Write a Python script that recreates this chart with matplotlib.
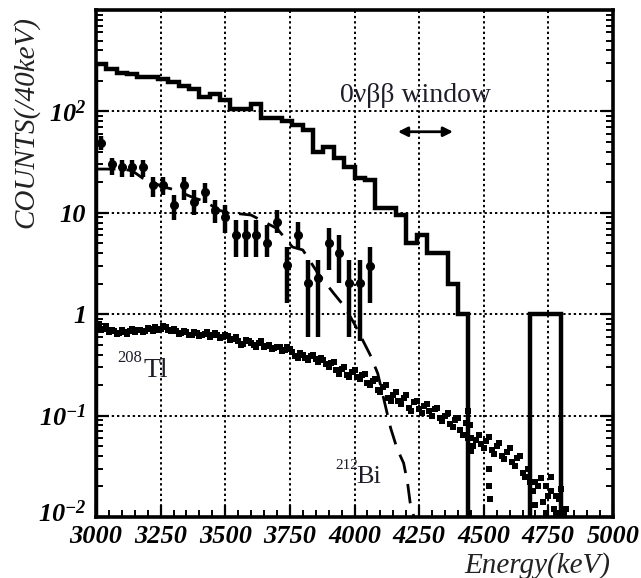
import numpy as np
import matplotlib
matplotlib.use("Agg")
import matplotlib.pyplot as plt
from matplotlib.ticker import FixedLocator, MultipleLocator, LogLocator, NullFormatter
from matplotlib.transforms import ScaledTranslation

# thick histogram, 40 keV bins from 3000 keV (0 = empty bin)
hist_edges = np.arange(3000, 5001, 40)
hist_counts = [292, 261, 240, 232, 217, 217, 207, 194, 177, 165,
               138, 147, 131, 105, 105, 117, 87, 87, 80, 74,
               66, 40, 45, 35, 28.5, 22, 21, 11.2, 11.2, 9.6,
               5.0, 6.1, 4.0, 4.0, 2.0, 1.0, 0, 0, 0, 0,
               0, 0, 1, 1, 1, 0, 0, 0, 0, 0]

# data points with error bars
data_e = [3020, 3060, 3100, 3140, 3180, 3220, 3260, 3300, 3340, 3380,
          3420, 3460, 3500, 3540, 3580, 3620, 3660, 3700, 3740, 3780,
          3820, 3860, 3900, 3940, 3980, 4020, 4060]
data_v = [49, 30, 28.5, 28.5, 28.5, 18.9, 18.9, 12, 18.9, 12.8,
          16, 10.7, 9.1, 6.1, 6.1, 6.1, 5.05, 8.1, 3.06, 6.06,
          2.03, 2.27, 5.05, 4.0, 2.03, 2.03, 2.99]
data_lo = [42, 23.7, 22.7, 22.7, 22.7, 14.4, 15, 8.5, 13.4, 9.6,
           12.5, 7.9, 6.3, 3.7, 3.7, 3.7, 3.7, 6.3, 1.28, 4.5,
           0.59, 0.59, 2.7, 2.03, 0.59, 0.55, 1.28]
data_hi = [57, 35, 33.5, 33.5, 33.5, 22.7, 22.7, 15, 22.7, 16.9,
           19.8, 13.4, 12, 8.5, 8.5, 8.5, 7.6, 10.7, 4.6, 8.1,
           3.4, 3.4, 7.1, 6.06, 3.4, 3.4, 4.6]

# 212Bi curve
bi_e = [3000, 3100, 3140, 3180, 3260, 3300, 3380, 3420, 3480, 3520,
        3600, 3700, 3760, 3800, 3860, 3920, 3960, 4000, 4060, 4090,
        4140, 4165, 4190, 4205, 4215, 4230]
bi_v = [27, 27, 26, 22, 18, 17, 14, 13, 10.5, 10,
        9.5, 7, 4.6, 4.3, 2.5, 1.6, 1.2, 0.8, 0.4, 0.26,
        0.075, 0.047, 0.034, 0.022, 0.014, 0.01]

# 208Tl scatter, read as two interleaved sets (20 keV steps)
tl_e1 = np.arange(3010, 4811, 20)
tl_v1 = [0.80, 0.72, 0.66, 0.68, 0.65, 0.67, 0.69, 0.66, 0.70, 0.68,
         0.71, 0.75, 0.72, 0.74, 0.68, 0.69, 0.65, 0.66, 0.63, 0.65,
         0.62, 0.66, 0.62, 0.63, 0.60, 0.61, 0.57, 0.55, 0.51, 0.55,
         0.50, 0.52, 0.47, 0.50, 0.46, 0.47, 0.44, 0.45, 0.39, 0.41,
         0.37, 0.39, 0.36, 0.37, 0.32, 0.33, 0.28, 0.29, 0.25, 0.27,
         0.24, 0.25, 0.21, 0.22, 0.18, 0.19, 0.15, 0.16, 0.14, 0.15,
         0.12, 0.135, 0.115, 0.125, 0.11, 0.115, 0.095, 0.10, 0.082, 0.09,
         0.072, 0.085, 0.06, 0.058, 0.052, 0.056, 0.046, 0.05, 0.04, 0.044,
         0.035, 0.038, 0.027, 0.03, 0.018, 0.02, 0.014, 0.016, 0.012, 0.015,
         0.011]
tl_e2 = np.arange(3020, 4821, 20)
tl_v2 = [0.70, 0.76, 0.70, 0.64, 0.70, 0.64, 0.72, 0.70, 0.66, 0.73,
         0.69, 0.70, 0.77, 0.70, 0.72, 0.64, 0.68, 0.62, 0.67, 0.61,
         0.64, 0.60, 0.65, 0.58, 0.63, 0.56, 0.59, 0.50, 0.56, 0.52,
         0.48, 0.54, 0.49, 0.45, 0.48, 0.43, 0.47, 0.42, 0.37, 0.40,
         0.35, 0.40, 0.34, 0.35, 0.30, 0.34, 0.26, 0.30, 0.24, 0.28,
         0.23, 0.26, 0.20, 0.23, 0.17, 0.20, 0.14, 0.17, 0.13, 0.16,
         0.11, 0.14, 0.105, 0.13, 0.10, 0.12, 0.088, 0.105, 0.078, 0.095,
         0.065, 0.11, 0.05, 0.065, 0.048, 0.062, 0.042, 0.054, 0.037, 0.048,
         0.032, 0.04, 0.025, 0.022, 0.013, 0.024, 0.011, 0.018, 0.011, 0.019,
         0.012]
tl_extra_e = [4440, 4445, 4450, 4520, 4520, 4525, 4700, 4740, 4760, 4780]
tl_extra_v = [0.06, 0.08, 0.045, 0.03, 0.02, 0.015, 0.022, 0.02, 0.025, 0.016]

xticks = [3000, 3250, 3500, 3750, 4000, 4250, 4500, 4750, 5000]
yticks = [0.01, 0.1, 1, 10, 100]
ytick_labels = [r"$10^{-2}$", r"$10^{-1}$", "1", "10", r"$10^{2}$"]

plt.rcParams["font.family"] = "Liberation Serif"
plt.rcParams["mathtext.fontset"] = "custom"
plt.rcParams["mathtext.rm"] = "Liberation Serif:bold:italic"
plt.rcParams["mathtext.it"] = "Liberation Serif:bold:italic"
plt.rcParams["mathtext.bf"] = "Liberation Serif:bold:italic"
plt.rcParams["mathtext.default"] = "rm"

fig = plt.figure(figsize=(6.41, 5.78), dpi=100)
ax = fig.add_axes([96 / 641, 61 / 578, 517 / 641, 507 / 578])
ax.set_yscale("log")

ax.stairs(hist_counts, hist_edges, color="black", lw=3.2, zorder=4)

yerr = [np.array(data_v) - np.array(data_lo), np.array(data_hi) - np.array(data_v)]
ax.errorbar(data_e, data_v, yerr=yerr, fmt="o", color="black", ms=5.5,
            elinewidth=3.2, capsize=0, zorder=5)

ax.plot(bi_e, bi_v, color="black", lw=2, ls=(0, (7, 4)), zorder=3)
for e, v in [(tl_e1, tl_v1), (tl_e2, tl_v2), (tl_extra_e, tl_extra_v)]:
    ax.plot(e, v, "s", color="black", ms=3.8, mew=0, zorder=3)

ax.set_xlim(3000, 5000)
ax.set_ylim(0.01, 1000)

ax.xaxis.set_major_locator(FixedLocator(xticks))
ax.xaxis.set_minor_locator(MultipleLocator(50))
ax.yaxis.set_major_locator(FixedLocator(yticks))
ax.yaxis.set_minor_locator(LogLocator(subs=np.arange(2, 10)))
ax.yaxis.set_minor_formatter(NullFormatter())
ax.set_yticklabels(ytick_labels)
ax.set_xticklabels([str(t) for t in xticks])

for lab in ax.get_xticklabels() + ax.get_yticklabels():
    lab.set_fontsize(19)
    lab.set_fontweight("bold")
    lab.set_fontstyle("italic")

ax.tick_params(which="both", direction="in", left=True, bottom=True, right=True, top=False)
ax.tick_params(which="major", length=9, width=1.6)
ax.tick_params(axis="x", which="major", pad=6)
ax.tick_params(axis="y", which="major", pad=7)
ax.tick_params(which="minor", length=5, width=1.4)

# lift the lowest y label a little so it clears "3000"
low = ax.get_yticklabels()[0]
low.set_transform(low.get_transform() + ScaledTranslation(0, 4 / 72, fig.dpi_scale_trans))

ax.grid(True, which="major", color="black", ls=(0, (1.2, 1.5)), lw=1.4)
for s in ax.spines.values():
    s.set_linewidth(2.6)

ax.text(4234, 144, "0\u03bd\u03b2\u03b2 window", fontsize=20, ha="center", va="center", color="#1e1e2a")
ax.annotate("", xy=(4168, 63), xytext=(4381, 63),
            arrowprops=dict(arrowstyle="<|-|>", color="black", lw=2, mutation_scale=14,
                            shrinkA=0, shrinkB=0))

ax.text(3182, 0.238, "Tl", fontsize=20, ha="left", va="baseline", color="#1e1e2a")
ax.text(3081, 0.335, "208", fontsize=12, ha="left", va="baseline", color="#1e1e2a")
ax.text(4008, 0.0217, "Bi", fontsize=19, ha="left", va="baseline", color="#1e1e2a")
ax.text(3925, 0.0299, "212", fontsize=11, ha="left", va="baseline", color="#1e1e2a")

fig.text(26 / 641, 1 - 122 / 578, "COUNTS(/40keV)", rotation=90, fontsize=21,
         fontstyle="italic", ha="center", va="center", color="#222222")
fig.text(610 / 641, 1 - 566 / 578, "Energy(keV)", fontsize=21,
         fontstyle="italic", ha="right", va="center", color="#222222")

fig.savefig("out.png", dpi=100)
